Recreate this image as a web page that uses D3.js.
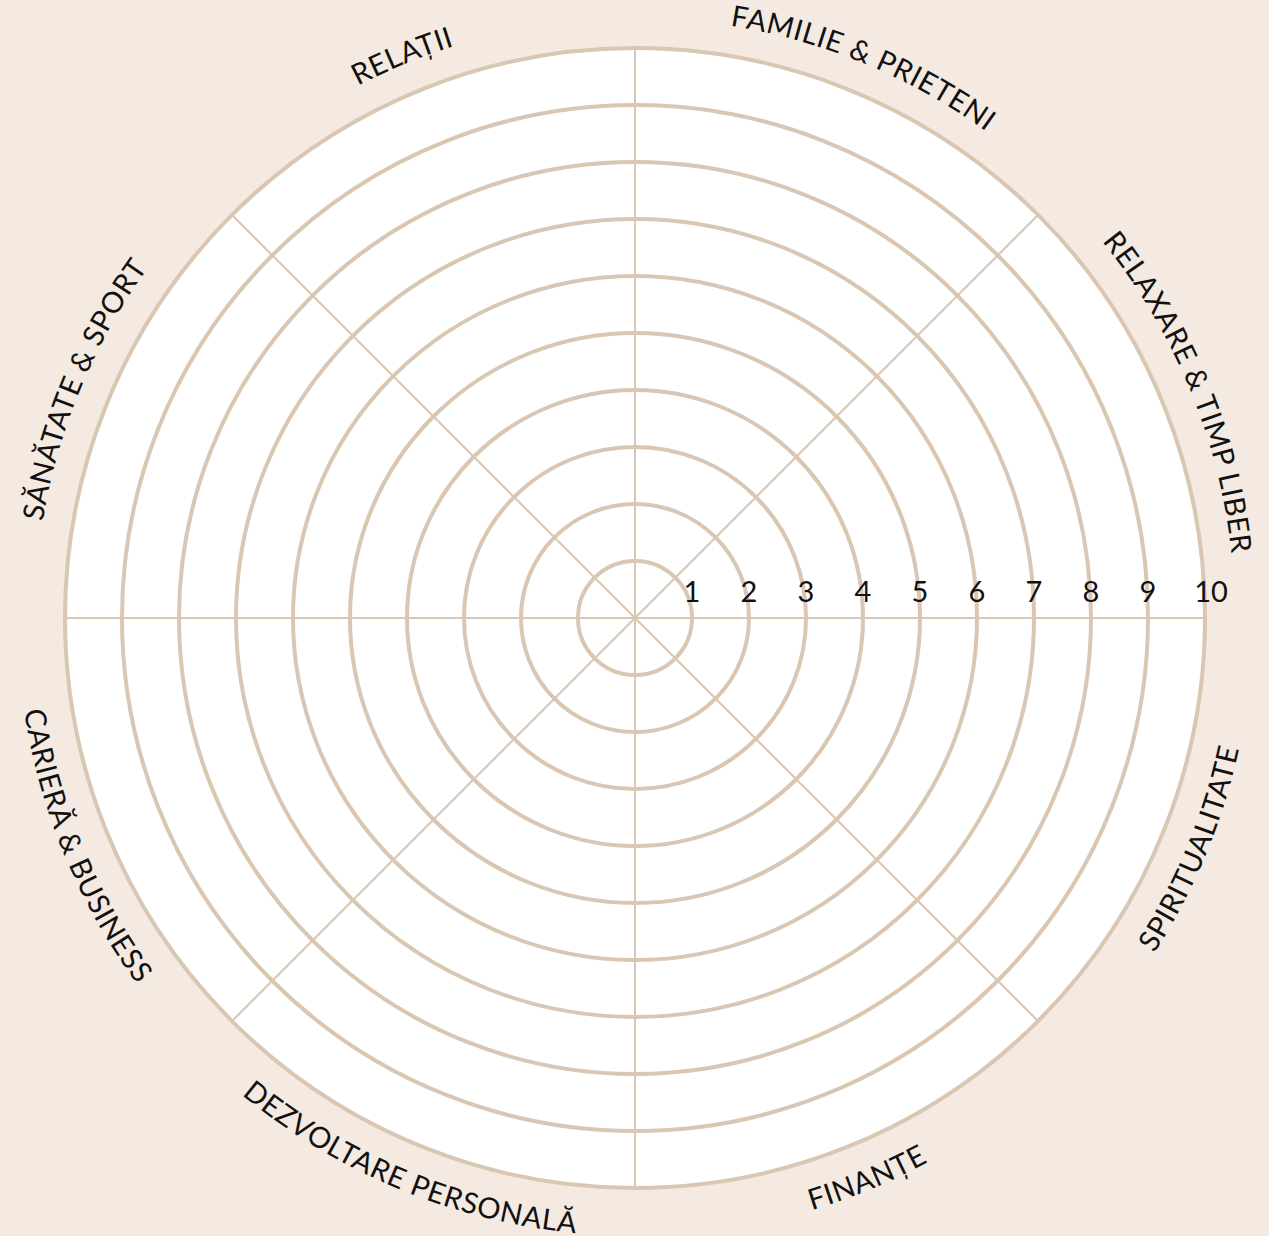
<!DOCTYPE html>
<html>
<head>
<meta charset="utf-8">
<script src="https://cdn.jsdelivr.net/npm/d3@7"></script>
<style>
  html, body { margin: 0; padding: 0; background: #f4eae1; }
  svg { display: block; }
  text { font-family: Lato, "Noto Sans", sans-serif; fill: #111; }
</style>
</head>
<body>
<svg id="chart" width="1269" height="1236"></svg>
<script>
// ---- data ----
const categories = [
  "FAMILIE & PRIETENI",
  "RELAXARE & TIMP LIBER",
  "SPIRITUALITATE",
  "FINANȚE",
  "DEZVOLTARE PERSONALĂ",
  "CARIERĂ & BUSINESS",
  "SĂNĂTATE & SPORT",
  "RELAȚII"
];
const ringValues = [1, 2, 3, 4, 5, 6, 7, 8, 9, 10];
const tickLabels = ["1", "2", "3", "4", "5", "6", "7", "8", "9", "10"];

// ---- layout ----
const cx = 635, cy = 618;
const outerR = 570;
const ringColor = "#d9c6b3";

const svg = d3.select("#chart");
const defs = svg.append("defs");
const g = svg.append("g").attr("transform", `translate(${cx},${cy})`);

const r = d3.scaleLinear().domain([0, 10]).range([0, outerR]);
const nSlices = categories.length;
const angle = d3.scaleLinear().domain([0, nSlices]).range([0, 2 * Math.PI]);
const pt = (a, rad) => [rad * Math.sin(a), -rad * Math.cos(a)];

// white disc
g.append("circle").attr("r", r(10)).attr("fill", "#ffffff");

// spokes
g.selectAll("line.spoke")
  .data(d3.range(nSlices))
  .join("line")
  .attr("class", "spoke")
  .attr("x1", 0).attr("y1", 0)
  .attr("x2", i => pt(angle(i), r(10))[0])
  .attr("y2", i => pt(angle(i), r(10))[1])
  .attr("stroke", ringColor)
  .attr("stroke-width", 2);

// rings
g.selectAll("circle.ring")
  .data(ringValues)
  .join("circle")
  .attr("class", "ring")
  .attr("r", d => r(d))
  .attr("fill", "none")
  .attr("stroke", ringColor)
  .attr("stroke-width", 4);

// ring numbers along the right axis
g.selectAll("text.tick")
  .data(ringValues)
  .join("text")
  .attr("class", "tick")
  .attr("x", d => r(d) + (d === 10 ? 6 : 0))
  .attr("y", -16)
  .attr("text-anchor", "middle")
  .attr("font-size", 29)
  .text((d, i) => tickLabels[i]);

// category labels on curved paths (paths in centred coordinates)
const topR = 600, botR = 618, halfSpan = Math.PI / 3;
categories.forEach((c, i) => {
  const a = angle(i + 0.5);
  const deg = a * 180 / Math.PI;
  const bottom = deg > 90 && deg < 270;
  let d;
  if (!bottom) {
    const p0 = pt(a - halfSpan, topR), p1 = pt(a + halfSpan, topR);
    d = `M${p0[0]},${p0[1]} A${topR},${topR} 0 0 1 ${p1[0]},${p1[1]}`;
  } else {
    const p0 = pt(a + halfSpan, botR), p1 = pt(a - halfSpan, botR);
    d = `M${p0[0]},${p0[1]} A${botR},${botR} 0 0 0 ${p1[0]},${p1[1]}`;
  }
  defs.append("path").attr("id", "lab" + i).attr("d", d);
});

g.append("g")
  .selectAll("text.cat")
  .data(categories)
  .join("text")
  .attr("class", "cat")
  .attr("font-size", 29)
  .attr("letter-spacing", 0.6)
  .append("textPath")
  .attr("href", (d, i) => "#lab" + i)
  .attr("startOffset", "50%")
  .attr("text-anchor", "middle")
  .text(d => d);
</script>
</body>
</html>
